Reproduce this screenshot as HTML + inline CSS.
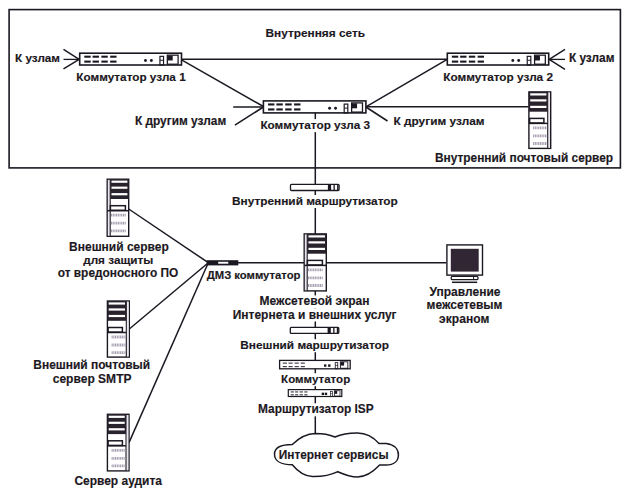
<!DOCTYPE html>
<html><head><meta charset="utf-8"><style>
html,body{margin:0;padding:0;background:#fff;}
svg{display:block;}
text{font-family:"Liberation Sans",sans-serif;font-weight:bold;fill:#1c1822;stroke:#1c1822;stroke-width:0.15px;}
</style></head><body>
<svg width="627" height="495" viewBox="0 0 627 495">
<rect x="0" y="0" width="627" height="495" fill="#fff"/>
<rect x="9.1" y="9.6" width="611.3" height="158.3" fill="none" stroke="#1c1822" stroke-width="1.6" rx="0"/>
<line x1="182" y1="59.3" x2="447" y2="59.3" stroke="#1c1822" stroke-width="1.5"/>
<line x1="182" y1="60.2" x2="263.4" y2="106.5" stroke="#1c1822" stroke-width="1.5"/>
<line x1="365.9" y1="106.8" x2="447.2" y2="59.3" stroke="#1c1822" stroke-width="1.5"/>
<line x1="365.9" y1="106.8" x2="528.5" y2="106.8" stroke="#1c1822" stroke-width="1.5"/>
<line x1="63.5" y1="49.4" x2="79.2" y2="59.4" stroke="#1c1822" stroke-width="1.5"/>
<line x1="63.5" y1="59.4" x2="79.2" y2="59.4" stroke="#1c1822" stroke-width="1.3"/>
<line x1="63.5" y1="68.9" x2="79.2" y2="59.4" stroke="#1c1822" stroke-width="1.5"/>
<line x1="565" y1="49.4" x2="549.2" y2="59.4" stroke="#1c1822" stroke-width="1.5"/>
<line x1="565" y1="59.4" x2="549.2" y2="59.4" stroke="#1c1822" stroke-width="1.3"/>
<line x1="565" y1="69.4" x2="549.2" y2="59.4" stroke="#1c1822" stroke-width="1.5"/>
<line x1="233.2" y1="107" x2="263.4" y2="107" stroke="#1c1822" stroke-width="1.5"/>
<line x1="234.9" y1="125.2" x2="263.4" y2="107" stroke="#1c1822" stroke-width="1.5"/>
<line x1="387.5" y1="121.0" x2="365.9" y2="107" stroke="#1c1822" stroke-width="1.5"/>
<line x1="315.3" y1="113" x2="315.3" y2="433" stroke="#1c1822" stroke-width="1.5"/>
<line x1="128.7" y1="209" x2="208.3" y2="262.7" stroke="#1c1822" stroke-width="1.5"/>
<line x1="129.3" y1="329.0" x2="208.3" y2="262.7" stroke="#1c1822" stroke-width="1.5"/>
<line x1="129.0" y1="442.6" x2="208.3" y2="262.7" stroke="#1c1822" stroke-width="1.5"/>
<line x1="208.3" y1="262.7" x2="446.3" y2="262.7" stroke="#1c1822" stroke-width="1.5"/>
<rect x="79.7" y="53.2" width="101.8" height="11.799999999999997" fill="#fff" stroke="#1c1822" stroke-width="1.6" rx="0"/>
<rect x="84.29098039215687" y="55.65833333333334" width="6.387450980392157" height="2.0649999999999995" fill="#1c1822"/>
<rect x="84.29098039215687" y="60.575" width="6.387450980392157" height="2.0649999999999995" fill="#1c1822"/>
<rect x="92.57470588235294" y="55.65833333333334" width="6.387450980392157" height="2.0649999999999995" fill="#1c1822"/>
<rect x="92.57470588235294" y="60.575" width="6.387450980392157" height="2.0649999999999995" fill="#1c1822"/>
<rect x="101.35745098039216" y="55.65833333333334" width="6.387450980392157" height="2.0649999999999995" fill="#1c1822"/>
<rect x="101.35745098039216" y="60.575" width="6.387450980392157" height="2.0649999999999995" fill="#1c1822"/>
<rect x="110.14019607843137" y="55.65833333333334" width="6.387450980392157" height="2.0649999999999995" fill="#1c1822"/>
<rect x="110.14019607843137" y="60.575" width="6.387450980392157" height="2.0649999999999995" fill="#1c1822"/>
<circle cx="145.47" cy="60.48" r="1.45" fill="#1c1822"/>
<circle cx="151.36" cy="60.48" r="1.45" fill="#1c1822"/>
<rect x="159.94235294117647" y="56.34666666666667" width="3.5929411764705885" height="8.653333333333332" fill="none" stroke="#1c1822" stroke-width="1.1799999999999997" rx="0"/>
<line x1="159.94235294117647" y1="60.28" x2="163.53529411764706" y2="60.28" stroke="#1c1822" stroke-width="0.9833333333333331"/>
<rect x="167.3278431372549" y="55.16666666666667" width="10.778823529411765" height="9.046666666666663" fill="none" stroke="#1c1822" stroke-width="1.278333333333333" rx="0"/>
<rect x="167.52745098039216" y="55.56" width="5.189803921568628" height="4.916666666666665" fill="#1c1822"/>
<rect x="447.3" y="53.2" width="101.40000000000003" height="11.799999999999997" fill="#fff" stroke="#1c1822" stroke-width="1.6" rx="0"/>
<rect x="451.8729411764706" y="55.65833333333334" width="6.362352941176473" height="2.0649999999999995" fill="#1c1822"/>
<rect x="451.8729411764706" y="60.575" width="6.362352941176473" height="2.0649999999999995" fill="#1c1822"/>
<rect x="460.1241176470588" y="55.65833333333334" width="6.362352941176473" height="2.0649999999999995" fill="#1c1822"/>
<rect x="460.1241176470588" y="60.575" width="6.362352941176473" height="2.0649999999999995" fill="#1c1822"/>
<rect x="468.8723529411765" y="55.65833333333334" width="6.362352941176473" height="2.0649999999999995" fill="#1c1822"/>
<rect x="468.8723529411765" y="60.575" width="6.362352941176473" height="2.0649999999999995" fill="#1c1822"/>
<rect x="477.6205882352941" y="55.65833333333334" width="6.362352941176473" height="2.0649999999999995" fill="#1c1822"/>
<rect x="477.6205882352941" y="60.575" width="6.362352941176473" height="2.0649999999999995" fill="#1c1822"/>
<circle cx="512.81" cy="60.48" r="1.45" fill="#1c1822"/>
<circle cx="518.68" cy="60.48" r="1.45" fill="#1c1822"/>
<rect x="527.2270588235294" y="56.34666666666667" width="3.578823529411766" height="8.653333333333332" fill="none" stroke="#1c1822" stroke-width="1.1799999999999997" rx="0"/>
<line x1="527.2270588235294" y1="60.28" x2="530.8058823529412" y2="60.28" stroke="#1c1822" stroke-width="0.9833333333333331"/>
<rect x="534.5835294117647" y="55.16666666666667" width="10.7364705882353" height="9.046666666666663" fill="none" stroke="#1c1822" stroke-width="1.278333333333333" rx="0"/>
<rect x="534.7823529411766" y="55.56" width="5.169411764705885" height="4.916666666666665" fill="#1c1822"/>
<rect x="263.4" y="100.9" width="102.5" height="12.0" fill="#fff" stroke="#1c1822" stroke-width="1.6" rx="0"/>
<rect x="268.0225490196078" y="103.4" width="6.431372549019608" height="2.1" fill="#1c1822"/>
<rect x="268.0225490196078" y="108.4" width="6.431372549019608" height="2.1" fill="#1c1822"/>
<rect x="276.3632352941176" y="103.4" width="6.431372549019608" height="2.1" fill="#1c1822"/>
<rect x="276.3632352941176" y="108.4" width="6.431372549019608" height="2.1" fill="#1c1822"/>
<rect x="285.2063725490196" y="103.4" width="6.431372549019608" height="2.1" fill="#1c1822"/>
<rect x="285.2063725490196" y="108.4" width="6.431372549019608" height="2.1" fill="#1c1822"/>
<rect x="294.0495098039215" y="103.4" width="6.431372549019608" height="2.1" fill="#1c1822"/>
<rect x="294.0495098039215" y="108.4" width="6.431372549019608" height="2.1" fill="#1c1822"/>
<circle cx="329.62" cy="108.30" r="1.45" fill="#1c1822"/>
<circle cx="335.55" cy="108.30" r="1.45" fill="#1c1822"/>
<rect x="344.1941176470588" y="104.10000000000001" width="3.6176470588235294" height="8.8" fill="none" stroke="#1c1822" stroke-width="1.2" rx="0"/>
<line x1="344.1941176470588" y1="108.10000000000001" x2="347.81176470588235" y2="108.10000000000001" stroke="#1c1822" stroke-width="1.0"/>
<rect x="351.63039215686274" y="102.9" width="10.852941176470589" height="9.2" fill="none" stroke="#1c1822" stroke-width="1.3" rx="0"/>
<rect x="351.8313725490196" y="103.30000000000001" width="5.2254901960784315" height="5.0" fill="#1c1822"/>
<rect x="528.9" y="91.9" width="21.800000000000068" height="56.5" fill="#fff" stroke="#1c1822" stroke-width="1.4" rx="0"/>
<rect x="548.2" y="92.60000000000001" width="1.8" height="55.1" fill="#ebe7ee"/>
<line x1="547.7" y1="91.9" x2="547.7" y2="148.4" stroke="#1c1822" stroke-width="1.1"/>
<rect x="528.9" y="91.9" width="18.800000000000068" height="19.8" fill="#28222c"/>
<rect x="530.1999999999999" y="93.30000000000001" width="16.200000000000067" height="2.2" fill="#fff"/>
<rect x="530.1999999999999" y="99.30000000000001" width="16.200000000000067" height="2.2" fill="#fff"/>
<rect x="530.1999999999999" y="105.80000000000001" width="16.200000000000067" height="2.2" fill="#fff"/>
<rect x="529.6" y="118.4" width="14.3" height="4.6" fill="#fff" stroke="#1c1822" stroke-width="1.5" rx="0"/>
<line x1="528.9" y1="123.4" x2="547.7" y2="123.4" stroke="#1c1822" stroke-width="1.5"/>
<line x1="533.10" y1="127.90" x2="547.10" y2="127.90" stroke="#a49cae" stroke-width="2.8" stroke-dasharray="1.1 0.6"/>
<line x1="533.10" y1="135.90" x2="547.10" y2="135.90" stroke="#a49cae" stroke-width="2.8" stroke-dasharray="1.1 0.6"/>
<line x1="533.10" y1="143.50" x2="547.10" y2="143.50" stroke="#a49cae" stroke-width="2.8" stroke-dasharray="1.1 0.6"/>
<rect x="290.5" y="184.3" width="48.60000000000002" height="6.199999999999989" fill="#fff" stroke="#1c1822" stroke-width="1.3" rx="1.0"/>
<rect x="327.90000000000003" y="184.3" width="3.2" height="6.199999999999989" fill="#1c1822"/>
<rect x="333.5" y="184.3" width="1.3" height="6.199999999999989" fill="#1c1822"/>
<rect x="337.1" y="184.3" width="1.4" height="6.199999999999989" fill="#1c1822"/>
<rect x="304.2" y="233.9" width="22.100000000000023" height="56.99999999999997" fill="#fff" stroke="#1c1822" stroke-width="1.4" rx="0"/>
<rect x="304.9" y="234.6" width="1.8" height="55.59999999999997" fill="#ebe7ee"/>
<line x1="307.2" y1="233.9" x2="307.2" y2="290.9" stroke="#1c1822" stroke-width="1.1"/>
<rect x="307.2" y="233.9" width="19.100000000000023" height="19.8" fill="#28222c"/>
<rect x="308.5" y="235.3" width="16.50000000000002" height="2.2" fill="#fff"/>
<rect x="308.5" y="241.3" width="16.50000000000002" height="2.2" fill="#fff"/>
<rect x="308.5" y="247.8" width="16.50000000000002" height="2.2" fill="#fff"/>
<rect x="307.4" y="260.4" width="15.0" height="4.6" fill="#fff" stroke="#1c1822" stroke-width="1.5" rx="0"/>
<line x1="304.2" y1="265.4" x2="326.3" y2="265.4" stroke="#1c1822" stroke-width="1.5"/>
<line x1="308.00" y1="269.90" x2="323.30" y2="269.90" stroke="#a49cae" stroke-width="2.8" stroke-dasharray="1.1 0.6"/>
<line x1="308.00" y1="277.90" x2="323.30" y2="277.90" stroke="#a49cae" stroke-width="2.8" stroke-dasharray="1.1 0.6"/>
<line x1="308.00" y1="285.50" x2="323.30" y2="285.50" stroke="#a49cae" stroke-width="2.8" stroke-dasharray="1.1 0.6"/>
<rect x="107.2" y="179.2" width="21.499999999999986" height="57.10000000000002" fill="#fff" stroke="#1c1822" stroke-width="1.4" rx="0"/>
<rect x="107.9" y="179.89999999999998" width="1.8" height="55.700000000000024" fill="#ebe7ee"/>
<line x1="110.2" y1="179.2" x2="110.2" y2="236.3" stroke="#1c1822" stroke-width="1.1"/>
<rect x="110.2" y="179.2" width="18.499999999999986" height="19.8" fill="#28222c"/>
<rect x="111.5" y="180.6" width="15.899999999999986" height="2.2" fill="#fff"/>
<rect x="111.5" y="186.6" width="15.899999999999986" height="2.2" fill="#fff"/>
<rect x="111.5" y="193.1" width="15.899999999999986" height="2.2" fill="#fff"/>
<rect x="110.4" y="205.7" width="15.0" height="4.6" fill="#fff" stroke="#1c1822" stroke-width="1.5" rx="0"/>
<line x1="107.2" y1="210.7" x2="128.7" y2="210.7" stroke="#1c1822" stroke-width="1.5"/>
<line x1="111.00" y1="215.20" x2="125.70" y2="215.20" stroke="#a49cae" stroke-width="2.8" stroke-dasharray="1.1 0.6"/>
<line x1="111.00" y1="223.20" x2="125.70" y2="223.20" stroke="#a49cae" stroke-width="2.8" stroke-dasharray="1.1 0.6"/>
<line x1="111.00" y1="230.80" x2="125.70" y2="230.80" stroke="#a49cae" stroke-width="2.8" stroke-dasharray="1.1 0.6"/>
<rect x="107.4" y="301.0" width="21.900000000000006" height="56.10000000000002" fill="#fff" stroke="#1c1822" stroke-width="1.4" rx="0"/>
<rect x="126.80000000000001" y="301.7" width="1.8" height="54.700000000000024" fill="#ebe7ee"/>
<line x1="126.30000000000001" y1="301.0" x2="126.30000000000001" y2="357.1" stroke="#1c1822" stroke-width="1.1"/>
<rect x="107.4" y="301.0" width="18.900000000000006" height="19.8" fill="#28222c"/>
<rect x="108.7" y="302.4" width="16.300000000000004" height="2.2" fill="#fff"/>
<rect x="108.7" y="308.4" width="16.300000000000004" height="2.2" fill="#fff"/>
<rect x="108.7" y="314.9" width="16.300000000000004" height="2.2" fill="#fff"/>
<rect x="108.10000000000001" y="327.5" width="14.3" height="4.6" fill="#fff" stroke="#1c1822" stroke-width="1.5" rx="0"/>
<line x1="107.4" y1="332.5" x2="126.30000000000001" y2="332.5" stroke="#1c1822" stroke-width="1.5"/>
<line x1="111.60" y1="337.00" x2="125.70" y2="337.00" stroke="#a49cae" stroke-width="2.8" stroke-dasharray="1.1 0.6"/>
<line x1="111.60" y1="345.00" x2="125.70" y2="345.00" stroke="#a49cae" stroke-width="2.8" stroke-dasharray="1.1 0.6"/>
<line x1="111.60" y1="352.60" x2="125.70" y2="352.60" stroke="#a49cae" stroke-width="2.8" stroke-dasharray="1.1 0.6"/>
<rect x="107.4" y="414.3" width="21.599999999999994" height="56.599999999999966" fill="#fff" stroke="#1c1822" stroke-width="1.4" rx="0"/>
<rect x="126.5" y="415.0" width="1.8" height="55.19999999999997" fill="#ebe7ee"/>
<line x1="126.0" y1="414.3" x2="126.0" y2="470.9" stroke="#1c1822" stroke-width="1.1"/>
<rect x="107.4" y="414.3" width="18.599999999999994" height="19.8" fill="#28222c"/>
<rect x="108.7" y="415.7" width="15.999999999999995" height="2.2" fill="#fff"/>
<rect x="108.7" y="421.7" width="15.999999999999995" height="2.2" fill="#fff"/>
<rect x="108.7" y="428.2" width="15.999999999999995" height="2.2" fill="#fff"/>
<rect x="108.10000000000001" y="440.8" width="14.3" height="4.6" fill="#fff" stroke="#1c1822" stroke-width="1.5" rx="0"/>
<line x1="107.4" y1="445.8" x2="126.0" y2="445.8" stroke="#1c1822" stroke-width="1.5"/>
<line x1="111.60" y1="450.30" x2="125.40" y2="450.30" stroke="#a49cae" stroke-width="2.8" stroke-dasharray="1.1 0.6"/>
<line x1="111.60" y1="458.30" x2="125.40" y2="458.30" stroke="#a49cae" stroke-width="2.8" stroke-dasharray="1.1 0.6"/>
<line x1="111.60" y1="465.90" x2="125.40" y2="465.90" stroke="#a49cae" stroke-width="2.8" stroke-dasharray="1.1 0.6"/>
<rect x="206.7" y="260.2" width="31.6" height="5.2" fill="#1c1822"/>
<rect x="218.2" y="261.8" width="10.1" height="1.9" fill="#fff"/>
<rect x="446.9" y="244.9" width="35.6" height="30.2" fill="#fff" stroke="#1c1822" stroke-width="1.4" rx="0"/>
<rect x="450.8" y="248.8" width="27.9" height="22.8" fill="#302634"/>
<rect x="451.2" y="276.3" width="26.8" height="3.4" fill="#fff" stroke="#1c1822" stroke-width="1.3" rx="1.2"/>
<line x1="473.6" y1="276.3" x2="473.6" y2="279.7" stroke="#1c1822" stroke-width="1.0"/>
<line x1="452" y1="282.3" x2="477.2" y2="282.3" stroke="#1c1822" stroke-width="1.5"/>
<rect x="290.3" y="327.4" width="48.5" height="6.0" fill="#fff" stroke="#1c1822" stroke-width="1.3" rx="1.0"/>
<rect x="327.6" y="327.4" width="3.2" height="6.0" fill="#1c1822"/>
<rect x="333.2" y="327.4" width="1.3" height="6.0" fill="#1c1822"/>
<rect x="336.8" y="327.4" width="1.4" height="6.0" fill="#1c1822"/>
<rect x="279.6" y="360.4" width="70.59999999999997" height="8.400000000000034" fill="#fff" stroke="#1c1822" stroke-width="1.3" rx="0"/>
<rect x="282.7839215686275" y="362.57" width="4.152941176470586" height="1.1" fill="#3a3440"/>
<rect x="282.7839215686275" y="366.07" width="4.152941176470586" height="1.1" fill="#3a3440"/>
<rect x="288.5288235294118" y="362.57" width="4.152941176470586" height="1.1" fill="#3a3440"/>
<rect x="288.5288235294118" y="366.07" width="4.152941176470586" height="1.1" fill="#3a3440"/>
<rect x="294.61980392156863" y="362.57" width="4.152941176470586" height="1.1" fill="#3a3440"/>
<rect x="294.61980392156863" y="366.07" width="4.152941176470586" height="1.1" fill="#3a3440"/>
<rect x="300.7107843137255" y="362.57" width="4.152941176470586" height="1.1" fill="#3a3440"/>
<rect x="300.7107843137255" y="366.07" width="4.152941176470586" height="1.1" fill="#3a3440"/>
<rect x="324.01313725490195" y="364.38" width="2.4" height="2.4" fill="#1c1822"/>
<rect x="328.09686274509806" y="364.38" width="2.4" height="2.4" fill="#1c1822"/>
<rect x="335.2494117647059" y="362.64" width="2.4917647058823515" height="6.160000000000026" fill="none" stroke="#1c1822" stroke-width="0.8400000000000034" rx="0"/>
<line x1="335.2494117647059" y1="365.44" x2="337.74117647058824" y2="365.44" stroke="#1c1822" stroke-width="0.7000000000000028"/>
<rect x="340.3713725490196" y="361.79999999999995" width="7.4752941176470555" height="6.440000000000025" fill="none" stroke="#1c1822" stroke-width="0.9100000000000037" rx="0"/>
<rect x="340.5098039215686" y="362.08" width="3.599215686274508" height="3.500000000000014" fill="#1c1822"/>
<rect x="288.3" y="389.6" width="53.5" height="6.899999999999977" fill="#fff" stroke="#1c1822" stroke-width="1.2" rx="0"/>
<rect x="290.71274509803925" y="391.3825" width="3.147058823529412" height="1.1" fill="#3a3440"/>
<rect x="290.71274509803925" y="394.2575" width="3.147058823529412" height="1.1" fill="#3a3440"/>
<rect x="295.06617647058823" y="391.3825" width="3.147058823529412" height="1.1" fill="#3a3440"/>
<rect x="295.06617647058823" y="394.2575" width="3.147058823529412" height="1.1" fill="#3a3440"/>
<rect x="299.68186274509804" y="391.3825" width="3.147058823529412" height="1.1" fill="#3a3440"/>
<rect x="299.68186274509804" y="394.2575" width="3.147058823529412" height="1.1" fill="#3a3440"/>
<rect x="304.29754901960786" y="391.3825" width="3.147058823529412" height="1.1" fill="#3a3440"/>
<rect x="304.29754901960786" y="394.2575" width="3.147058823529412" height="1.1" fill="#3a3440"/>
<rect x="321.6651960784314" y="392.65500000000003" width="2.4" height="2.4" fill="#1c1822"/>
<rect x="324.7598039215687" y="392.65500000000003" width="2.4" height="2.4" fill="#1c1822"/>
<rect x="330.47058823529414" y="391.44" width="1.8882352941176472" height="5.059999999999984" fill="none" stroke="#1c1822" stroke-width="0.6899999999999976" rx="0"/>
<line x1="330.47058823529414" y1="393.74" x2="332.3588235294118" y2="393.74" stroke="#1c1822" stroke-width="0.5749999999999981"/>
<rect x="334.35196078431375" y="390.75" width="5.6647058823529415" height="5.289999999999981" fill="none" stroke="#1c1822" stroke-width="0.7474999999999975" rx="0"/>
<rect x="334.4568627450981" y="390.98" width="2.727450980392157" height="2.8749999999999902" fill="#1c1822"/>
<path d="M 315.2 433.6 C 323 433.6, 330 435, 335 437 C 341 434.5, 349 433, 357.5 433.1 C 367 433.2, 374 438, 379 443.5 C 381 443.4, 384 443.4, 386.2 443.5 C 394 444.5, 398.4 449, 398.4 454.9 C 398.4 461, 394 465, 386 465.1 C 384 465.1, 381.5 465.1, 379.6 465.1 C 374 471, 366 477, 357.5 477 C 350 477, 343 474, 337.8 471.7 C 331 475, 322 476.8, 312.4 476.6 C 304 476.3, 297 470.5, 292.3 464.8 C 283 464.8, 274.5 462, 274.5 454.2 C 274.5 447, 283 444.5, 292.3 444.5 C 298 439, 306 433.8, 315.2 433.6 Z" fill="#fff" stroke="#1c1822" stroke-width="1.5"/>
<text x="265.5" y="37.3" textLength="99.5" lengthAdjust="spacing" font-size="11.84">Внутренняя сеть</text>
<text x="15" y="62.3" textLength="45.0" lengthAdjust="spacing" font-size="11.70">К узлам</text>
<text x="568.9" y="62.4" textLength="45.6" lengthAdjust="spacing" font-size="11.86">К узлам</text>
<text x="76.3" y="81.0" textLength="109.4" lengthAdjust="spacing" font-size="11.74">Коммутатор узла 1</text>
<text x="443.2" y="81.0" textLength="109.8" lengthAdjust="spacing" font-size="11.79">Коммутатор узла 2</text>
<rect x="259.4" y="119.1" width="111.60000000000002" height="13" fill="#fff"/>
<text x="260.4" y="129.1" textLength="109.6" lengthAdjust="spacing" font-size="11.77">Коммутатор узла 3</text>
<text x="134.9" y="125.4" textLength="91.3" lengthAdjust="spacing" font-size="11.88">К другим узлам</text>
<text x="393.5" y="125.0" textLength="91.0" lengthAdjust="spacing" font-size="11.84">К другим узлам</text>
<text x="434.9" y="162.4" textLength="178.2" lengthAdjust="spacing" font-size="11.90">Внутренний почтовый сервер</text>
<rect x="231" y="195.0" width="167.8" height="13" fill="#fff"/>
<text x="232" y="205.0" textLength="165.8" lengthAdjust="spacing" font-size="11.84">Внутренний маршрутизатор</text>
<text x="206.7" y="279.1" textLength="93.8" lengthAdjust="spacing" font-size="11.30">ДМЗ коммутатор</text>
<rect x="258.5" y="295.4" width="112.0" height="13" fill="#fff"/>
<text x="259.5" y="305.4" textLength="110.0" lengthAdjust="spacing" font-size="12.00">Межсетевой экран</text>
<rect x="231.75" y="308.5" width="165.75" height="13" fill="#fff"/>
<text x="232.75" y="318.5" textLength="163.8" lengthAdjust="spacing" font-size="11.97">Интернета и внешних услуг</text>
<rect x="239.25" y="339.2" width="150.75" height="13" fill="#fff"/>
<text x="240.25" y="349.2" textLength="148.8" lengthAdjust="spacing" font-size="11.84">Внешний маршрутизатор</text>
<rect x="280.1" y="373.2" width="71.09999999999997" height="13" fill="#fff"/>
<text x="281.1" y="383.2" textLength="69.1" lengthAdjust="spacing" font-size="11.54">Коммутатор</text>
<rect x="257" y="403.3" width="117.69999999999999" height="13" fill="#fff"/>
<text x="258" y="413.3" textLength="115.7" lengthAdjust="spacing" font-size="11.88">Маршрутизатор ISP</text>
<text x="278.8" y="458.9" textLength="109.7" lengthAdjust="spacing" font-size="11.85">Интернет сервисы</text>
<text x="429.5" y="296.4" textLength="71.0" lengthAdjust="spacing" font-size="12.00">Управление</text>
<text x="426.5" y="309.2" textLength="76.0" lengthAdjust="spacing" font-size="12.00">межсетевым</text>
<text x="439" y="322.7" textLength="50.5" lengthAdjust="spacing" font-size="12.00">экраном</text>
<text x="69.1" y="250.5" textLength="99.6" lengthAdjust="spacing" font-size="11.97">Внешний сервер</text>
<text x="83.2" y="263.8" textLength="70.1" lengthAdjust="spacing" font-size="11.73">для защиты</text>
<text x="57.7" y="276.6" textLength="120.6" lengthAdjust="spacing" font-size="11.89">от вредоносного ПО</text>
<text x="33.3" y="369.1" textLength="116.8" lengthAdjust="spacing" font-size="11.96">Внешний почтовый</text>
<text x="52.7" y="383.0" textLength="78.8" lengthAdjust="spacing" font-size="12.00">сервер SMTP</text>
<text x="74.4" y="485.0" textLength="87.6" lengthAdjust="spacing" font-size="11.97">Сервер аудита</text>
</svg>
</body></html>
